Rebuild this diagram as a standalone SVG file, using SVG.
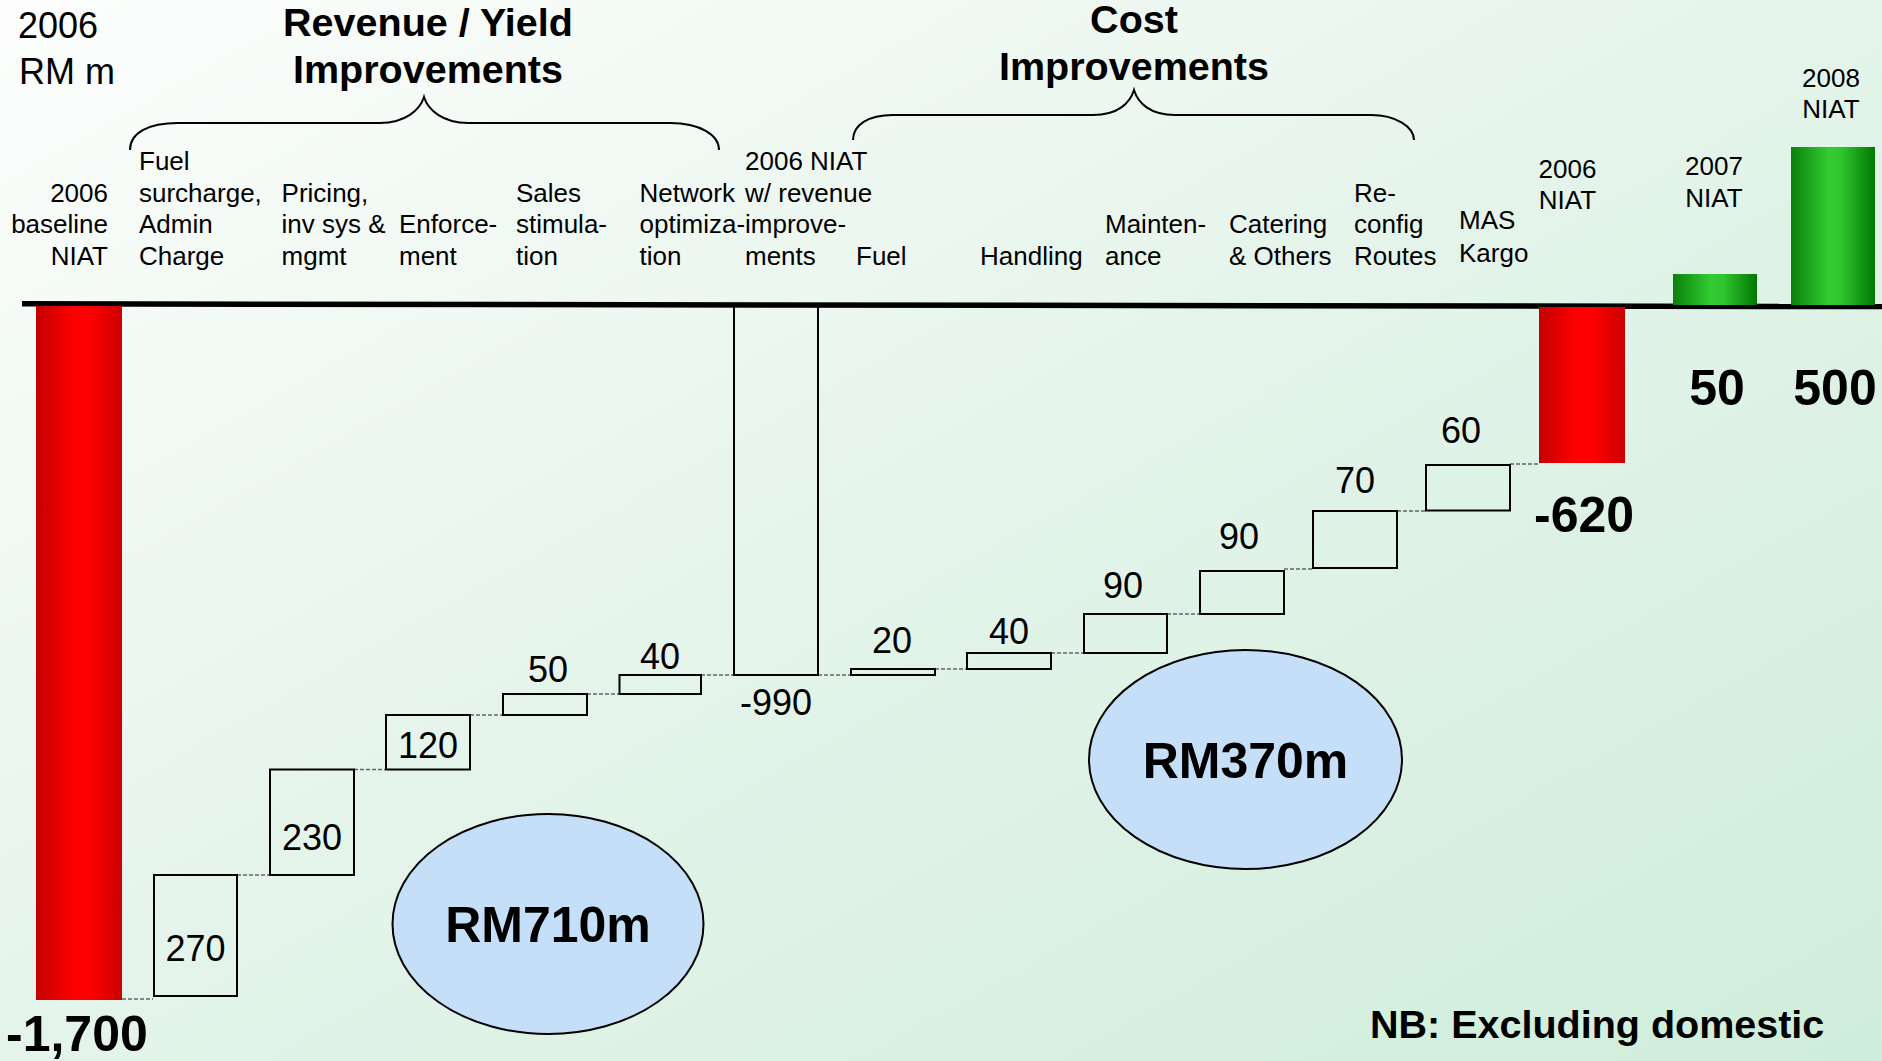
<svg xmlns="http://www.w3.org/2000/svg" width="1882" height="1061" viewBox="0 0 1882 1061">
<defs>
<linearGradient id="bg" x1="0" y1="0" x2="1" y2="1">
<stop offset="0" stop-color="#fdfefd"/>
<stop offset="0.5" stop-color="#e4f4ea"/>
<stop offset="1" stop-color="#cfeddb"/>
</linearGradient>
<linearGradient id="red" x1="0" y1="0" x2="1" y2="0">
<stop offset="0" stop-color="#c40000"/>
<stop offset="0.45" stop-color="#ff0000"/>
<stop offset="0.6" stop-color="#ff0000"/>
<stop offset="1" stop-color="#cc0000"/>
</linearGradient>
<linearGradient id="green" x1="0" y1="0" x2="1" y2="0">
<stop offset="0" stop-color="#0a800a"/>
<stop offset="0.45" stop-color="#33cc33"/>
<stop offset="0.6" stop-color="#30c430"/>
<stop offset="1" stop-color="#007800"/>
</linearGradient>
<style>
text{font-family:"Liberation Sans",Arial,sans-serif;fill:#000}
.h{font-size:26px}
.v{font-size:36px;text-anchor:middle}
.big{font-size:50px;font-weight:bold}
.hd{font-size:39.5px;font-weight:bold;text-anchor:middle}
.box{fill:none;stroke:#000;stroke-width:2}
.dash{stroke:#666;stroke-width:1.6;stroke-dasharray:4 2;fill:none}
.brace{fill:none;stroke:#000;stroke-width:2}
.oval{fill:#c5dff8;stroke:#000;stroke-width:2}
.ov{font-size:50px;font-weight:bold;text-anchor:middle}
</style>
</defs>
<rect x="0" y="0" width="1882" height="1061" fill="url(#bg)"/>

<g id="title">
<text x="18" y="38" style="font-size:36px">2006</text>
<text x="19" y="84" style="font-size:36px">RM m</text>
</g>

<g id="revenue-heading">
<text class="hd" x="428" y="36">Revenue / Yield</text>
<text class="hd" x="428" y="83">Improvements</text>
<path class="brace" d="M130,150 C130,133 148,123 178,123 L380,123 C405,123 420,110 424,97 C428,110 443,123 468,123 L670,123 C700,123 719,135 719,150"/>
</g>

<g id="cost-heading">
<text class="hd" x="1134" y="33">Cost</text>
<text class="hd" x="1134" y="80">Improvements</text>
<path class="brace" d="M853,140 C853,125 868,115 893,115 L1093,115 C1118,115 1130,103 1134,90 C1138,103 1150,115 1175,115 L1371,115 C1396,115 1414,127 1414,140"/>
</g>

<line x1="22" y1="303.8" x2="1882" y2="306.6" stroke="#000" stroke-width="5.5"/>

<g id="connectors">
<line class="dash" x1="122" y1="999" x2="153" y2="999"/>
<line class="dash" x1="237" y1="875" x2="270" y2="875"/>
<line class="dash" x1="354" y1="769.5" x2="386" y2="769.5"/>
<line class="dash" x1="470" y1="715" x2="503" y2="715"/>
<line class="dash" x1="587" y1="694" x2="619" y2="694"/>
<line class="dash" x1="701" y1="675" x2="734" y2="675"/>
<line class="dash" x1="818" y1="675" x2="851" y2="675"/>
<line class="dash" x1="935" y1="669" x2="967" y2="669"/>
<line class="dash" x1="1051" y1="653" x2="1084" y2="653"/>
<line class="dash" x1="1167" y1="614" x2="1200" y2="614"/>
<line class="dash" x1="1284" y1="569" x2="1313" y2="569"/>
<line class="dash" x1="1397" y1="511" x2="1426" y2="511"/>
<line class="dash" x1="1510" y1="464" x2="1540" y2="464"/>
</g>

<g id="baseline-2006">
<text class="h" x="108" y="201.7" text-anchor="end">2006</text>
<text class="h" x="108" y="233" text-anchor="end">baseline</text>
<text class="h" x="108" y="265" text-anchor="end">NIAT</text>
<rect x="36" y="306" width="86" height="694" fill="url(#red)"/>
<text class="big" x="6" y="1051">-1,700</text>
</g>

<g id="fuel-surcharge">
<text class="h" x="139" y="170">Fuel</text>
<text class="h" x="139" y="201.7">surcharge,</text>
<text class="h" x="139" y="233">Admin</text>
<text class="h" x="139" y="265">Charge</text>
<rect class="box" x="154" y="875" width="83" height="121"/>
<text class="v" x="195.5" y="961">270</text>
</g>

<g id="pricing">
<text class="h" x="281.6" y="201.7">Pricing,</text>
<text class="h" x="281.6" y="233">inv sys &amp;</text>
<text class="h" x="281.6" y="265">mgmt</text>
<rect class="box" x="270" y="769.5" width="84" height="105.5"/>
<text class="v" x="312" y="850">230</text>
</g>

<g id="enforcement">
<text class="h" x="399" y="233">Enforce-</text>
<text class="h" x="399" y="265">ment</text>
<rect class="box" x="386" y="715" width="84" height="54.5"/>
<text class="v" x="428" y="758">120</text>
</g>

<g id="sales">
<text class="h" x="516" y="201.7">Sales</text>
<text class="h" x="516" y="233">stimula-</text>
<text class="h" x="516" y="265">tion</text>
<rect class="box" x="503" y="694" width="84" height="21"/>
<text class="v" x="548" y="681.7">50</text>
</g>

<g id="network">
<text class="h" x="639.6" y="201.7">Network</text>
<text class="h" x="639.6" y="233">optimiza-</text>
<text class="h" x="639.6" y="265">tion</text>
<rect class="box" x="619.5" y="675" width="81.5" height="19"/>
<text class="v" x="660" y="669">40</text>
</g>

<g id="niat-2006-revenue">
<text class="h" x="745" y="170">2006 NIAT</text>
<text class="h" x="745" y="201.7">w/ revenue</text>
<text class="h" x="745" y="233">improve-</text>
<text class="h" x="745" y="265">ments</text>
<rect class="box" x="734" y="306" width="84" height="369"/>
<text class="v" x="776" y="715">-990</text>
</g>

<g id="fuel-cost">
<text class="h" x="856" y="265">Fuel</text>
<rect class="box" x="851" y="669" width="84" height="6"/>
<text class="v" x="892" y="652.7">20</text>
</g>

<g id="handling">
<text class="h" x="980" y="265">Handling</text>
<rect class="box" x="967" y="653" width="84" height="16"/>
<text class="v" x="1009" y="644">40</text>
</g>

<g id="maintenance">
<text class="h" x="1105" y="233">Mainten-</text>
<text class="h" x="1105" y="265">ance</text>
<rect class="box" x="1084" y="614" width="83" height="39"/>
<text class="v" x="1123" y="598">90</text>
</g>

<g id="catering">
<text class="h" x="1229" y="233">Catering</text>
<text class="h" x="1229" y="265">&amp; Others</text>
<rect class="box" x="1200" y="571" width="84" height="43"/>
<text class="v" x="1239" y="549">90</text>
</g>

<g id="reconfig">
<text class="h" x="1354" y="201.7">Re-</text>
<text class="h" x="1354" y="233">config</text>
<text class="h" x="1354" y="265">Routes</text>
<rect class="box" x="1313" y="511" width="84" height="57"/>
<text class="v" x="1355" y="493">70</text>
</g>

<g id="mas-kargo">
<text class="h" x="1459" y="229">MAS</text>
<text class="h" x="1459" y="261.7">Kargo</text>
<rect class="box" x="1426" y="465" width="84" height="45.5"/>
<text class="v" x="1461" y="443">60</text>
</g>

<g id="niat-2006">
<text class="h" x="1567.5" y="177.7" text-anchor="middle">2006</text>
<text class="h" x="1567.5" y="209" text-anchor="middle">NIAT</text>
<rect x="1539" y="307" width="86" height="156" fill="url(#red)"/>
<text class="big" x="1534" y="532">-620</text>
</g>

<g id="niat-2007">
<text class="h" x="1714" y="175.3" text-anchor="middle">2007</text>
<text class="h" x="1714" y="206.7" text-anchor="middle">NIAT</text>
<rect x="1673" y="274" width="84" height="31" fill="url(#green)"/>
<text class="big" x="1717" y="405" text-anchor="middle">50</text>
</g>

<g id="niat-2008">
<text class="h" x="1831" y="86.7" text-anchor="middle">2008</text>
<text class="h" x="1831" y="118.3" text-anchor="middle">NIAT</text>
<rect x="1791" y="147" width="84" height="158" fill="url(#green)"/>
<text class="big" x="1835" y="405" text-anchor="middle">500</text>
</g>

<g id="rm710">
<ellipse class="oval" cx="548" cy="924" rx="155.5" ry="110"/>
<text class="ov" x="548" y="942">RM710m</text>
</g>

<g id="rm370">
<ellipse class="oval" cx="1245.5" cy="759.5" rx="156.5" ry="109.5"/>
<text class="ov" x="1245.5" y="778">RM370m</text>
</g>

<g id="note">
<text x="1370" y="1038" style="font-size:39.5px;font-weight:bold">NB: Excluding domestic</text>
</g>
</svg>
